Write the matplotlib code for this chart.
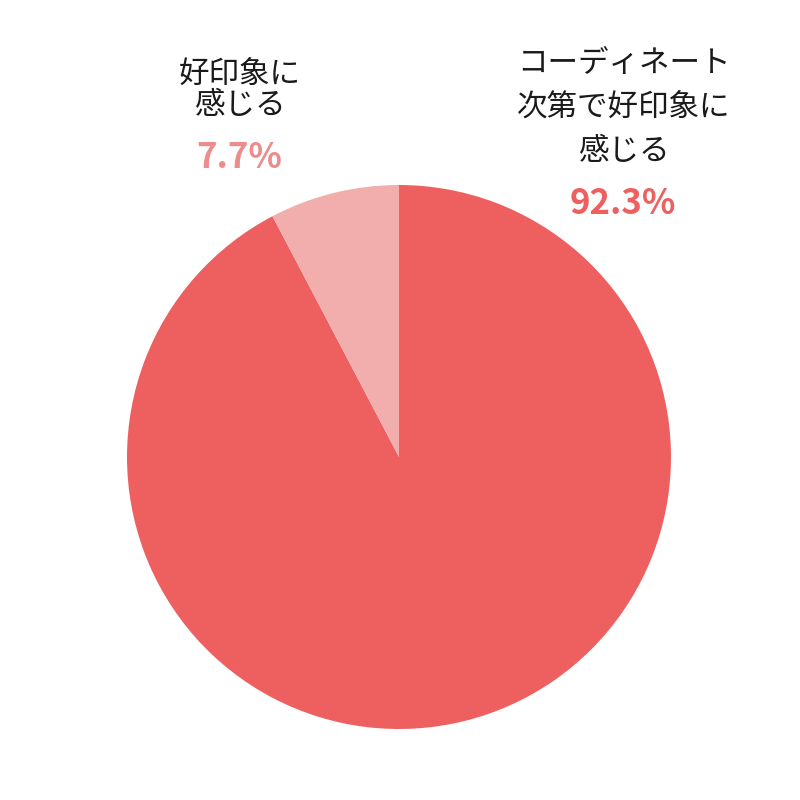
import matplotlib
matplotlib.use("Agg")
import matplotlib.pyplot as plt

plt.rcParams['font.family'] = ['Noto Sans CJK JP', 'DejaVu Sans']

labels = ["コーディネート\n次第で好印象に\n感じる", "好印象に\n感じる"]
values = [92.3, 7.7]
slice_colors = ["#EE5F5F", "#F2ADAD"]
pct_colors = ["#EE5F5F", "#EE8C8C"]

fig = plt.figure(figsize=(8, 8), dpi=100)
ax = fig.add_axes([0, 0, 1, 1])

# pie drawn in pixel-like coords; y is inverted so go counterclock to look clockwise
ax.pie(values, colors=slice_colors, startangle=-90, counterclock=True,
       center=(399, 457), radius=272, frame=True,
       wedgeprops=dict(linewidth=0))
ax.set_xlim(0, 800)
ax.set_ylim(800, 0)
ax.axis("off")

# right label (big slice)
for i, line in enumerate(labels[0].split("\n")):
    ax.text(624, 63 + i * 44.5, line, ha="center", va="center",
            fontsize=22, color="#1a1a1a")
ax.text(623, 204, f"{values[0]}%", ha="center", va="center",
        fontsize=25, fontweight="bold", color=pct_colors[0])

# left label (small slice)
for i, line in enumerate(labels[1].split("\n")):
    ax.text(240, 74 + i * 31, line, ha="center", va="center",
            fontsize=22, color="#1a1a1a")
ax.text(239, 157, f"{values[1]}%", ha="center", va="center",
        fontsize=25, fontweight="bold", color=pct_colors[1])

fig.savefig("out.png", dpi=100)
